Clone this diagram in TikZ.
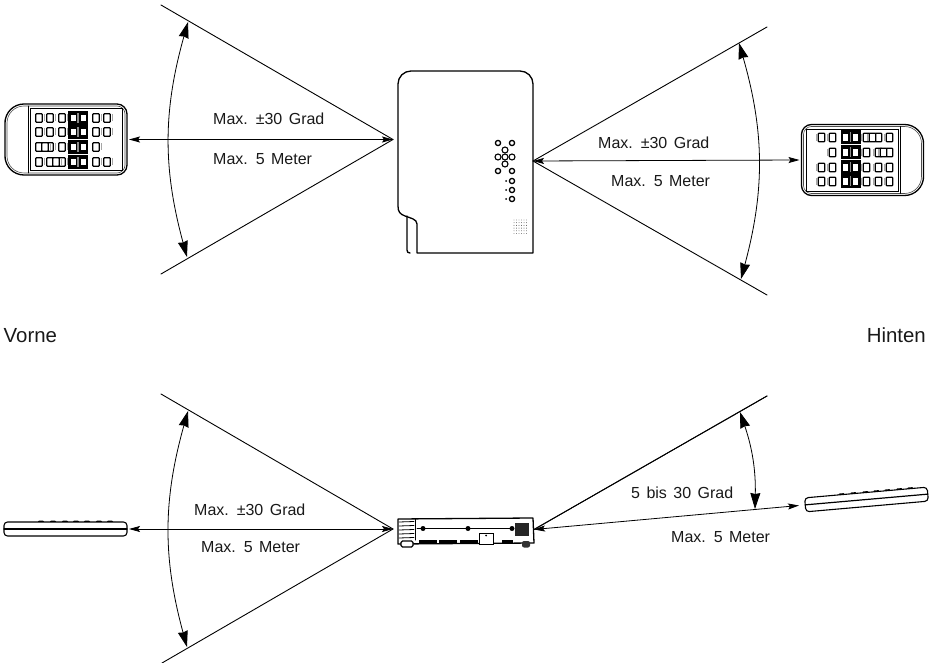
\documentclass[tikz,border=0pt]{standalone}
\usepackage{fontspec}
\setmainfont[WordSpace=1.45]{Liberation Sans}
\usetikzlibrary{arrows.meta}

\begin{document}
\begin{tikzpicture}[x=1pt, y=-1pt, line cap=round,
    ray/.style={line width=0.9pt},
    sweep/.style={{Stealth[length=16pt,width=10pt,inset=1pt]}-{Stealth[length=16pt,width=10pt,inset=1pt]}, line width=0.8pt},
    beam/.style={{Stealth[length=11pt,width=6pt,inset=2pt]}-{Stealth[length=11pt,width=6pt,inset=2pt]}, line width=0.8pt},
    lab/.style={anchor=base west, inner sep=0pt, font=\fontsize{16}{18}\selectfont, text=black!90},
    sidelab/.style={lab, font=\fontsize{20.4}{24}\selectfont},
    anchorbox/.style={inner sep=0pt, outer sep=2pt, transform shape},
    outline/.style={line width=1.3pt, line join=round},
    remotekey/.style={draw, line width=1.3pt, fill=white, minimum width=6.5pt, minimum height=8.5pt, inner sep=0pt, rounded corners=0.8pt, transform shape},
    remotetop/.pic={
      \node[anchorbox, minimum width=122pt, minimum height=71pt] (-body) at (0,0) {};
      \draw[line width=1.3pt] (-61,0) [rounded corners=19pt] -- (-61,-35.5) -- (-10,-35.5)
        [rounded corners=10pt] -- (61,-35.5) -- (61,35.5) -- (-10,35.5)
        [rounded corners=19pt] -- (-61,35.5) -- cycle;
      \draw[line width=0.6pt, black!70] (-59,0) [rounded corners=17pt] -- (-59,-33.5) -- (-10,-33.5)
        [rounded corners=8pt] -- (59,-33.5) -- (59,33.5) -- (-10,33.5)
        [rounded corners=17pt] -- (-59,33.5) -- cycle;
      \draw[line width=0.9pt] (-38,-33.5) -- (-38,33.5);
      \draw[line width=0.9pt] (-36,-31) rectangle (56,31);
      \foreach \ry/\cols in {%
        -21.5/{-27,-16,-4,30,41},%
        -7.5/{-27,-16,-4,30,41},%
        7.5/{-27,-16,-21,-4,30},%
        22.5/{-27,-16,-4,-10,30,41}%
      }{
        \fill (2,\ry-7) rectangle (22,\ry+7);
        \foreach \kx in {7,17}{ \fill[white] (\kx-2.5,\ry-3.2) rectangle (\kx+2.5,\ry+3.2); }
        \fill[black!45] (11.3,\ry-5) rectangle (12.7,\ry+5);
        \foreach \kx in \cols {
          \node[remotekey] (-k\kx) at (\kx,\ry) {};
          \fill[black!35] (\kx+4.8,\ry-3.5) rectangle (\kx+5.8,\ry+3.5);
        }
      }
    },
    remoteside/.pic={
      \node[anchorbox, minimum width=123pt, minimum height=14pt] (-body) at (0,0) {};
      \foreach \kx in {-24.5,-12.5,-0.5,10.5,21.5,33.5,44.5}{
        \fill[rounded corners=0.8pt] (\kx-3,-8.3) rectangle (\kx+3,-6.3);
      }
      \draw[line width=1.1pt, rounded corners=3.5pt, fill=white] (-61.5,-7) rectangle (61.5,7);
      \draw[line width=1.2pt] (-61.5,0) -- (61.5,0);
    }]\rmfamily

  \useasboundingbox (0,0) rectangle (930,663);

  % apexes and free ends of the rays
  \foreach \al/\ax/\ay/\bx/\by/\cx/\cy in {%
    topl/393/139.5/161/5/161/274,%
    topr/533/161/767/27/767/295,%
    botl/393/529/161/394/162/663,%
    botr/534/529.5/767/396/767/396%
  }{
    \coordinate (\al) at (\ax,\ay);
    \coordinate (\al up) at (\bx,\by);
    \coordinate (\al down) at (\cx,\cy);
    \draw[ray] (\al) -- (\al up);
    \draw[ray] (\al) -- (\al down);
  }

  % remote controls
  \pic (remotea) at (66,139.5) {remotetop};
  \pic[rotate=180] (remoteb) at (862.5,160) {remotetop};
  \pic (remotec) at (65.5,529) {remoteside};
  \pic[rotate=5] (remoted) at (866.5,499.5) {remoteside};

  % projector from above
  \draw[outline] (398,206) -- (398,84) to[out=90, in=180] (411,71) -- (520,71)
    to[out=0, in=90] (533,84) -- (533,253) -- (417,253) -- (417,224)
    .. controls (417,219) and (410,218) .. (405,216)
    .. controls (400,214) and (398,212) .. (398,206);
  \draw[outline] (407,216) -- (407,250) .. controls (407,252) and (408,253) .. (410,253);
  \foreach \kx/\ky in {498/143, 512/143, 498/171, 512/171, 512/181, 512/190, 512/199}{
    \draw[line width=1.3pt] (\kx,\ky) circle (2.6pt);
  }
  \foreach \kx/\ky in {505/150, 498/157, 512/157, 505/164, 505/157}{
    \draw[line width=1.1pt, fill=white] (\kx,\ky) circle (3pt);
  }
  \foreach \ky in {181, 190, 199}{ \fill (506,\ky) circle (1pt); }
  \foreach \kx in {514,516.5,...,527}{
    \foreach \ky in {220,222.7,...,234}{ \fill[black!70] (\kx,\ky) circle (0.45pt); }
  }

  % projector from the side
  \draw[outline, fill=white] (398,519) -- (533,518) -- (534,543) -- (398,544) -- cycle;
  \draw[line width=1pt] (415,519) -- (415,540);
  \foreach \ky in {522,526,530,534,538}{ \draw[line width=0.8pt] (399,\ky) -- (414,\ky-0.5); }
  \draw[line width=1pt] (417,528.5) -- (513,528.5);
  \foreach \kx in {423,468,512}{ \fill (\kx,528.5) circle (2.5pt); }
  \fill[black!85] (515,522.5) rectangle (529,535.5);
  \draw[line width=1pt, fill=white] (479,533) rectangle (493,544);
  \fill (486,535.5) circle (1pt);
  \foreach \ka/\kb in {418.5/436.5, 438.5/456.5, 459.5/477.5, 501.5/512.5}{
    \fill (\ka,539.5) rectangle (\kb,544);
  }
  \draw[line width=1.1pt, fill=white, rounded corners=1.5pt] (401,541) rectangle (413,547);
  \fill[black!80, rounded corners=2pt] (522,541) rectangle (530,547.5);

  % sweep arrows
  \draw[sweep] (188,22) to[bend right=15.5] (187,257);
  \draw[sweep] (739,43) to[bend left=15.5] (741,279);
  \draw[sweep] (188,411) to[bend right=15.5] (187,647);
  \draw[sweep] (740,412) to[bend left=10] (755,509);

  % beams
  \draw[beam] (remotea-body.east) -- (topl);
  \draw[beam] (topr) -- (remoteb-body.east);
  \draw[beam] (remotec-body.east) -- (botl);
  \coordinate (beamend) at (799,505.5);
  \draw[beam] (botr) -- (beamend);

  \foreach \al/\x/\y/\lab in {%
    anglea/213/125/Max. ±30 Grad,%
    distb/213/165/Max. 5 Meter,%
    anglec/598/149/Max. ±30 Grad,%
    distd/611/187/Max. 5 Meter,%
    anglee/194/515/Max. ±30 Grad,%
    distf/201/552/Max. 5 Meter,%
    angleg/631/498/5 bis 30 Grad,%
    disth/671/542/Max. 5 Meter%
  }{ \node[lab] (\al) at (\x,\y) {\lab}; }
  \node[sidelab] (front) at (3.5,342) {Vorne};
  \node[sidelab, anchor=base east] (rear) at (926,342) {Hinten};
\end{tikzpicture}
\end{document}
